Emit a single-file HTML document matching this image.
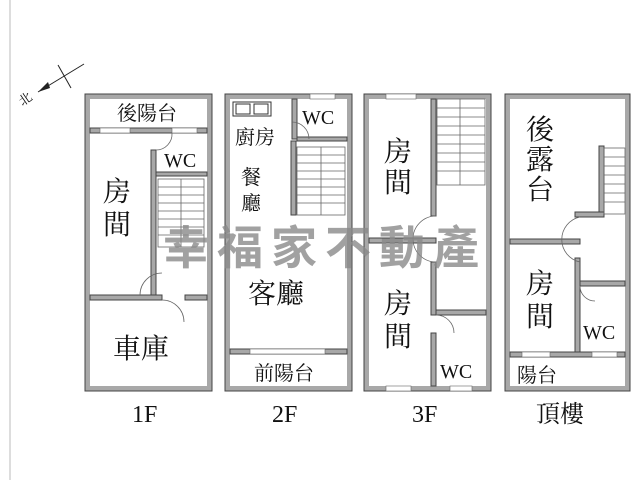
<!DOCTYPE html>
<html><head><meta charset="utf-8"><style>
body{margin:0;background:#fff;width:640px;height:480px;overflow:hidden}
svg{display:block}
text{font-family:"Liberation Serif","Noto Serif CJK SC",serif;fill:#111}
.w{fill:#a8a8a8;stroke:#444;stroke-width:1}
.s{stroke:#666;stroke-width:0.8;fill:none}
</style></head><body>
<svg width="640" height="480" viewBox="0 0 640 480">
<line x1="10" y1="0" x2="10" y2="480" stroke="#ddd" stroke-width="2"/>
<!-- north -->
<line x1="38" y1="92" x2="84" y2="64" stroke="#222"/>
<line x1="58" y1="65" x2="71" y2="88" stroke="#222"/>
<path d="M38 92 L48 82 L50 88 Z" fill="#222"/>
<text x="18" y="104" font-size="13" transform="rotate(-35 24 98)">北</text>

<!-- 1F -->
<rect class="w" x="85" y="94" width="127" height="297"/>
<rect x="90" y="99" width="117" height="287" fill="#fff"/>
<rect class="w" x="90" y="128" width="117" height="5"/>
<rect x="100" y="128" width="30" height="5" fill="#fff" stroke="#666" stroke-width=".6"/>
<rect x="172" y="128" width="25" height="5" fill="#fff" stroke="#666" stroke-width=".6"/>
<rect class="w" x="151" y="150" width="5" height="145"/>
<rect class="w" x="156" y="172" width="51" height="4"/>
<rect class="w" x="90" y="295" width="72" height="5"/>
<rect class="w" x="185" y="295" width="22" height="5"/>
<g class="s"><rect x="158" y="179" width="46" height="68"/>
<line x1="181" y1="179" x2="181" y2="247"/>
<path d="M158 187h46M158 195h46M158 203h46M158 211h46M158 219h46M158 227h46M158 235h46"/>
<path d="M140 295 A22 22 0 0 1 162 273 M162 300 A22 22 0 0 1 184 322"/>
<path d="M156 150 A16 16 0 0 0 172 133"/></g>
<!-- 2F -->
<rect class="w" x="225" y="94" width="127" height="297"/>
<rect x="230" y="99" width="117" height="287" fill="#fff"/>
<rect x="310" y="94" width="25" height="5" fill="#fff" stroke="#666" stroke-width=".6"/>
<rect class="w" x="292" y="99" width="5" height="40"/>
<rect class="w" x="297" y="137" width="50" height="4"/>
<rect class="w" x="291" y="141" width="5" height="74"/>
<rect class="w" x="230" y="349" width="117" height="5"/>
<rect x="250" y="349" width="75" height="5" fill="#fff" stroke="#666" stroke-width=".6"/>
<rect x="233" y="102" width="38" height="14" fill="#fff" stroke="#333"/>
<rect x="236" y="104" width="14" height="10" fill="#fff" stroke="#333"/>
<rect x="254" y="104" width="14" height="10" fill="#fff" stroke="#333"/>
<g class="s"><rect x="297" y="147" width="48" height="68"/>
<line x1="321" y1="147" x2="321" y2="215"/>
<path d="M297 155h48M297 163h48M297 171h48M297 179h48M297 187h48M297 195h48M297 203h48"/>
<path d="M292 122 A17 17 0 0 1 309 139"/></g>
<!-- 3F -->
<rect class="w" x="364" y="94" width="127" height="297"/>
<rect x="369" y="99" width="117" height="287" fill="#fff"/>
<rect x="386" y="94" width="30" height="5" fill="#fff" stroke="#666" stroke-width=".6"/>
<rect x="386" y="386" width="25" height="5" fill="#fff" stroke="#666" stroke-width=".6"/>
<rect x="450" y="386" width="22" height="5" fill="#fff" stroke="#666" stroke-width=".6"/>
<rect class="w" x="431" y="99" width="5" height="117"/>
<rect class="w" x="431" y="262" width="5" height="53"/>
<rect class="w" x="369" y="238" width="67" height="5"/>
<rect class="w" x="436" y="310" width="50" height="5"/>
<rect class="w" x="431" y="333" width="5" height="53"/>
<g class="s"><rect x="437" y="99" width="48" height="86"/>
<line x1="460" y1="99" x2="460" y2="185"/>
<path d="M437 108h48M437 117h48M437 126h48M437 135h48M437 144h48M437 153h48M437 162h48M437 171h48"/>
<path d="M436 216 A23 23 0 0 0 436 262 M436 315 A18 18 0 0 1 454 333"/></g>
<!-- roof -->
<rect class="w" x="505" y="94" width="125" height="297"/>
<rect x="510" y="99" width="115" height="287" fill="#fff"/>
<rect class="w" x="599" y="146" width="5" height="68"/>
<rect class="w" x="575" y="212" width="29" height="5"/>
<rect class="w" x="510" y="239" width="70" height="5"/>
<rect class="w" x="575" y="258" width="5" height="99"/>
<rect class="w" x="580" y="281" width="45" height="5"/>
<rect class="w" x="510" y="352" width="115" height="5"/>
<rect x="522" y="352" width="28" height="5" fill="#fff" stroke="#666" stroke-width=".6"/>
<rect x="592" y="352" width="25" height="5" fill="#fff" stroke="#666" stroke-width=".6"/>
<g class="s"><rect x="604" y="148" width="21" height="66"/>
<path d="M604 157h21M604 166h21M604 175h21M604 184h21M604 193h21M604 202h21"/>
<path d="M580 217 A23 23 0 0 0 580 262 M580 286 A15 15 0 0 0 595 301"/></g>

<!-- labels -->
<g font-size="20">
<text x="117" y="120">後陽台</text>
<text x="164" y="167">WC</text>
<text x="302" y="124">WC</text>
<text x="235" y="144">廚房</text>
<text x="254" y="380">前陽台</text>
<text x="440" y="378">WC</text>
<text x="583" y="339">WC</text>
<text x="517" y="382">陽台</text>
</g>
<g font-size="28">
<text x="103" y="201">房</text><text x="103" y="234">間</text>
<text x="113" y="358">車庫</text>
<text x="248" y="303">客廳</text>
<text x="384" y="161">房</text><text x="384" y="192">間</text>
<text x="384" y="313">房</text><text x="384" y="346">間</text>
<text x="526" y="139">後</text><text x="526" y="169">露</text><text x="526" y="199">台</text>
<text x="526" y="293">房</text><text x="526" y="326">間</text>
</g>
<g font-size="20"><text x="241" y="184">餐</text><text x="241" y="210">廳</text></g>
<text x="163" y="264" font-size="46" font-weight="bold" letter-spacing="8" style="fill:#8a8a8a;opacity:.8;font-family:'Liberation Sans','Noto Sans CJK SC',sans-serif">幸福家不動產</text>
<g font-size="24">
<text x="132" y="422">1F</text><text x="272" y="422">2F</text>
<text x="412" y="422">3F</text><text x="536" y="422">頂樓</text>
</g>
</svg>
</body></html>
